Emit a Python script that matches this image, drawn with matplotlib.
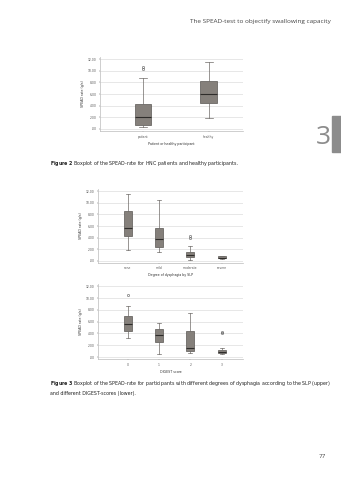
import matplotlib
matplotlib.use("Agg")
import matplotlib.pyplot as plt
from matplotlib.patches import Rectangle

# page size in pixels
W, H = 341, 480

# --- data (SPEAD rate, g/s) ---
ytick_values = [0, 2, 4, 6, 8, 10, 12]
ytick_labels = [".00", "2.00", "4.00", "6.00", "8.00", "10.00", "12.00"]

# Figure 2
fig2_groups = ["patient", "healthy"]
fig2_whislo = [0.3, 1.8]
fig2_q1 = [0.75, 4.5]
fig2_med = [2.05, 6.0]
fig2_q3 = [4.2, 8.2]
fig2_whishi = [8.75, 11.5]
fig2_fliers = [[10.3, 10.7], []]

# Figure 3 upper: degree of dysphagia by SLP
slp_groups = ["none", "mild", "moderate", "severe"]
slp_whislo = [1.8, 1.45, 0.17, 0.3]
slp_q1 = [4.25, 2.35, 0.58, 0.38]
slp_med = [5.7, 3.7, 0.93, 0.55]
slp_q3 = [8.65, 5.7, 1.5, 0.75]
slp_whishi = [11.55, 10.5, 2.6, 0.87]
slp_fliers = [[], [], [3.9, 4.2], []]

# Figure 3 lower: DIGEST score
digest_groups = ["0", "1", "2", "3"]
digest_whislo = [3.3, 0.45, 0.73, 0.45]
digest_q1 = [4.45, 2.5, 1.07, 0.65]
digest_med = [5.6, 3.75, 1.47, 0.93]
digest_q3 = [7.0, 4.75, 4.4, 1.2]
digest_whishi = [8.65, 5.7, 7.4, 1.47]
digest_fliers = [[10.6], [], [], [4.0, 4.3]]


def px_axes(left, top, right, bottom):
    return fig.add_axes([left / W, 1 - bottom / H, (right - left) / W, (bottom - top) / H])


def boxplot(ax, groups, whislo, q1, med, q3, whishi, fliers, xlim, width, xlabel):
    stats = []
    for i in range(len(groups)):
        stats.append(dict(label=groups[i], whislo=whislo[i], q1=q1[i], med=med[i],
                          q3=q3[i], whishi=whishi[i], fliers=fliers[i]))
    pos = list(range(1, len(groups) + 1))
    ax.bxp(stats, positions=pos, widths=width, patch_artist=True,
           boxprops=dict(facecolor="#85807b", edgecolor="#5a5754", linewidth=0.5),
           medianprops=dict(color="#2e2c2a", linewidth=0.8),
           whiskerprops=dict(color="#6e6b68", linewidth=0.5),
           capprops=dict(color="#6e6b68", linewidth=0.5),
           flierprops=dict(marker="o", markersize=1.6, markerfacecolor="none",
                           markeredgecolor="#555555", markeredgewidth=0.4))
    ax.set_xlim(*xlim)
    ax.set_ylim(-0.4, 12.4)
    ax.set_yticks(ytick_values)
    ax.set_yticklabels(ytick_labels)
    ax.grid(axis="y", color="#dddddd", linewidth=0.5)
    ax.set_axisbelow(True)
    for s in ["top", "right"]:
        ax.spines[s].set_visible(False)
    for s in ["left", "bottom"]:
        ax.spines[s].set_color("#bbbbbb")
        ax.spines[s].set_linewidth(0.5)
    ax.tick_params(labelsize=2.2, length=1, width=0.3, pad=1.5, colors="#555555")
    ax.set_xlabel(xlabel, fontsize=2.3, labelpad=2, color="#333333")
    ax.set_ylabel("SPEAD rate (g/s)", fontsize=2.3, labelpad=2, color="#333333")


fig = plt.figure(figsize=(W / 100, H / 100), dpi=100)

ax1 = px_axes(100, 56.7, 243, 131.3)
boxplot(ax1, fig2_groups, fig2_whislo, fig2_q1, fig2_med, fig2_q3, fig2_whishi,
        fig2_fliers, (0.35, 2.52), 0.25, "Patient or healthy participant")

ax2 = px_axes(98, 189, 243, 263)
boxplot(ax2, slp_groups, slp_whislo, slp_q1, slp_med, slp_q3, slp_whishi,
        slp_fliers, (0.05, 4.68), 0.26, "Degree of dysphagia by SLP")

ax3 = px_axes(98, 284, 243, 359.4)
boxplot(ax3, digest_groups, digest_whislo, digest_q1, digest_med, digest_q3,
        digest_whishi, digest_fliers, (0.05, 4.68), 0.26, "DIGEST score")

# page furniture
fig.text(331 / W, 1 - 22 / H, "The SPEAD-test to objectify swallowing capacity",
         ha="right", va="center", fontsize=4.6, color="#444444", family="Open Sans")
fig.patches.append(Rectangle((332 / W, 1 - 152 / H), 9 / W, 36 / H,
                             transform=fig.transFigure, color="#8c8c8c"))
fig.text(323 / W, 1 - 137 / H, "3", ha="center", va="center", fontsize=19,
         color="#8c8c8c", family="Open Sans")
fig.text(50 / W, 1 - 163 / H,
         r"$\bf{Figure\ 2}$ Boxplot of the SPEAD-rate for HNC patients and healthy participants.",
         ha="left", va="center", fontsize=3.4, color="#222222")
fig.text(50 / W, 1 - 384 / H,
         r"$\bf{Figure\ 3}$ Boxplot of the SPEAD-rate for participants with different degrees of dysphagia according to the SLP (upper)",
         ha="left", va="center", fontsize=3.4, color="#222222")
fig.text(50 / W, 1 - 393 / H, "and different DIGEST-scores (lower).",
         ha="left", va="center", fontsize=3.4, color="#222222")
fig.text(322 / W, 1 - 457 / H, "77", ha="center", va="center", fontsize=4.6,
         color="#444444", family="Open Sans")

fig.savefig("out.png", dpi=100)
